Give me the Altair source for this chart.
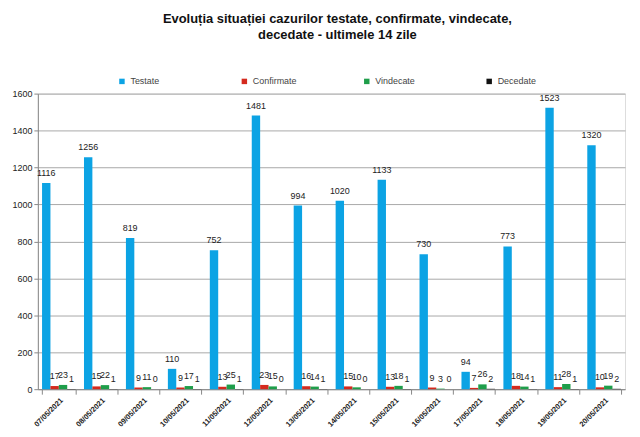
import altair as alt
import pandas as pd

dates = ["07/05/2021", "08/05/2021", "09/05/2021", "10/05/2021", "11/05/2021",
         "12/05/2021", "13/05/2021", "14/05/2021", "15/05/2021", "16/05/2021",
         "17/05/2021", "18/05/2021", "19/05/2021", "20/05/2021"]
testate = [1116, 1256, 819, 110, 752, 1481, 994, 1020, 1133, 730, 94, 773, 1523, 1320]
confirmate = [17, 15, 9, 9, 13, 23, 16, 15, 13, 9, 7, 18, 11, 10]
vindecate = [23, 22, 11, 17, 25, 15, 14, 10, 18, 3, 26, 14, 28, 19]
decedate = [1, 1, 0, 1, 1, 0, 1, 0, 1, 0, 2, 1, 1, 2]

series_names = ["Testate", "Confirmate", "Vindecate", "Decedate"]
series_colors = ["#0ca3e4", "#d42a1e", "#1f9e4a", "#111111"]

rows = []
for name, vals in zip(series_names, [testate, confirmate, vindecate, decedate]):
    for d, v in zip(dates, vals):
        rows.append({"date": d, "series": name, "value": v})
df = pd.DataFrame(rows)

FONT = "Liberation Sans"

x = alt.X("date:N", sort=dates, title=None,
          scale=alt.Scale(paddingInner=0.2, paddingOuter=0.1),
          axis=alt.Axis(labelAngle=-45, labelAlign="right", labelBaseline="top",
                        labelFontSize=7.5, labelFontWeight="bold", labelColor="#222",
                        labelFont=FONT, domainColor="#888", tickColor="#888",
                        ticks=True, tickBand="extent", labelPadding=2))
xo = alt.XOffset("series:N", sort=series_names,
                 scale=alt.Scale(paddingInner=0))
y = alt.Y("value:Q", title=None,
          scale=alt.Scale(domain=[0, 1600]),
          axis=alt.Axis(values=list(range(0, 1601, 200)), format="d", labelFontSize=9,
                        labelFont=FONT, labelColor="#222", gridColor="#a8a8a8",
                        domainColor="#888", tickColor="#888", tickSize=4))

base = alt.Chart(df)

bars = base.mark_bar().encode(
    x=x, xOffset=xo, y=y,
    color=alt.Color("series:N", sort=series_names,
                    scale=alt.Scale(domain=series_names, range=series_colors),
                    legend=alt.Legend(title=None, orient="none", direction="horizontal",
                                      legendX=80, legendY=-17, gridAlign="all",
                                      symbolType="square", symbolSize=30,
                                      labelFontSize=9, labelFont=FONT, labelColor="#444",
                                      columnPadding=65)),
)

labels = base.mark_text(dy=-5, fontSize=9, font=FONT, color="#222", baseline="bottom").encode(
    x=x, xOffset=xo, y=y, text="value:Q"
)

chart = alt.layer(bars, labels).properties(
    width=590, height=297,
    title=alt.TitleParams(
        ["Evoluția situației cazurilor testate, confirmate, vindecate,",
         "decedate -  ultimele 14 zile"],
        font=FONT, fontSize=13, fontWeight="bold", color="#111",
        anchor="middle", offset=35, lineHeight=16, dx=6),
    padding={"left": 3, "right": 7, "top": 4, "bottom": 0},
).configure_view(fill="#e6e6e6", stroke="#999").configure(background="white")

chart.save("out.html", embed_options={"renderer": "svg", "actions": False})
